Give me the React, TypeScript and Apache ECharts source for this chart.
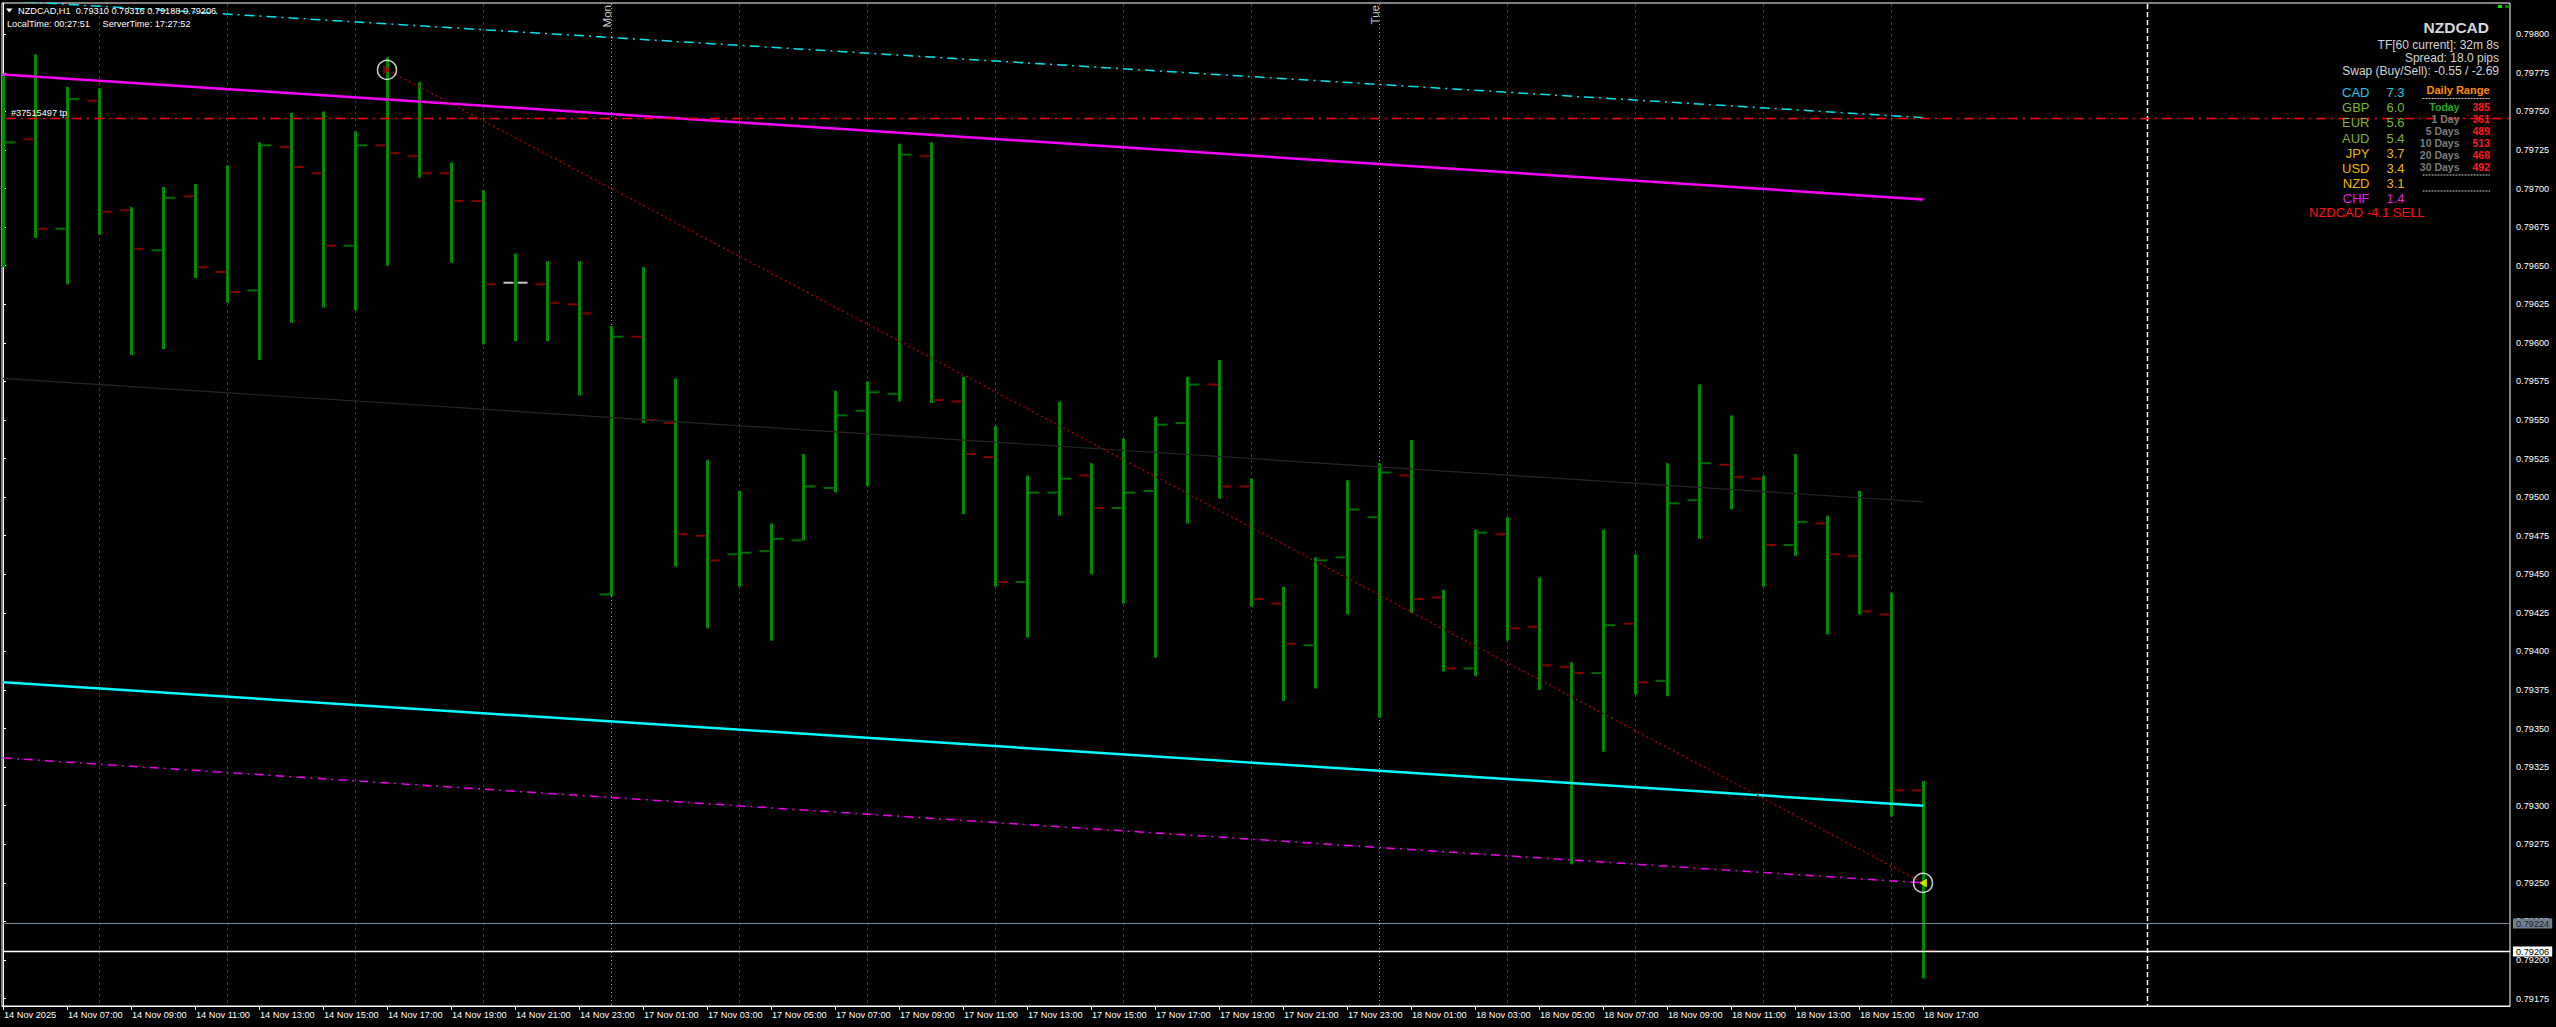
import React, { useEffect, useRef } from "react";
import * as echarts from "echarts";

// ---------- data ----------
const symbolName = "NZDCAD";
const timeframe = "H1";

const barOpen = [
  0.7969, 0.79732, 0.79674, 0.79757, 0.79686, 0.7966, 0.79695, 0.79646, 0.79634, 0.79727,
  0.7971, 0.79663, 0.79728, 0.79721, 0.7971, 0.79692, 0.79639, 0.79638, 0.79625, 0.79437,
  0.79604, 0.79548, 0.79475, 0.79463, 0.79465, 0.79472, 0.79506, 0.79556, 0.79567, 0.79721,
  0.79562, 0.79526, 0.79445, 0.79503, 0.79514, 0.79493, 0.79504, 0.79548, 0.79573, 0.79507,
  0.79431, 0.79404, 0.79461, 0.79487, 0.79514, 0.79435, 0.79389, 0.79476, 0.79416, 0.7939,
  0.79386, 0.79418, 0.79381, 0.79498, 0.79521, 0.79512, 0.79469, 0.79483, 0.79462, 0.79424,
  0.7931,
];
const barHigh = [
  0.79773, 0.79787, 0.79766, 0.79765, 0.79688, 0.79701, 0.79703, 0.79715, 0.7973, 0.79749,
  0.7975, 0.79737, 0.79785, 0.79769, 0.79717, 0.79699, 0.79658, 0.79653, 0.79653, 0.79611,
  0.79649, 0.79577, 0.79524, 0.79504, 0.79483, 0.79528, 0.79569, 0.79575, 0.79729, 0.7973,
  0.79578, 0.79546, 0.79514, 0.79562, 0.79522, 0.79538, 0.79552, 0.79578, 0.79589, 0.79512,
  0.79442, 0.79461, 0.79511, 0.79522, 0.79537, 0.7944, 0.79479, 0.79487, 0.79448, 0.79393,
  0.79479, 0.79463, 0.79522, 0.79573, 0.79553, 0.79514, 0.79528, 0.79488, 0.79504, 0.79438,
  0.79316,
];
const barLow = [
  0.79649, 0.79668, 0.79638, 0.7967, 0.79592, 0.79596, 0.79642, 0.79626, 0.79589, 0.79613,
  0.79623, 0.79621, 0.7965, 0.79707, 0.79652, 0.79599, 0.79601, 0.79601, 0.79566, 0.79436,
  0.79548, 0.79455, 0.79415, 0.79442, 0.79407, 0.79472, 0.79503, 0.79507, 0.79562, 0.79561,
  0.79489, 0.79442, 0.79409, 0.79488, 0.7945, 0.79431, 0.79396, 0.79483, 0.79499, 0.79429,
  0.79368, 0.79376, 0.79424, 0.79357, 0.79425, 0.79387, 0.79384, 0.79407, 0.79375, 0.79262,
  0.79335, 0.79372, 0.79371, 0.79473, 0.79492, 0.79442, 0.79462, 0.79411, 0.79424, 0.79293,
  0.79188,
];
const barClose = [
  0.7973, 0.79674, 0.79758, 0.79685, 0.79661, 0.79694, 0.79649, 0.79633, 0.79728, 0.79714,
  0.79663, 0.79728, 0.79723, 0.7971, 0.79692, 0.79638, 0.79639, 0.79626, 0.79619, 0.79604,
  0.7955, 0.79476, 0.79459, 0.79464, 0.79473, 0.79507, 0.79553, 0.79568, 0.79722, 0.79563,
  0.79528, 0.79445, 0.79503, 0.79512, 0.79493, 0.79503, 0.79547, 0.79573, 0.79507, 0.79434,
  0.79405, 0.79459, 0.79492, 0.79516, 0.79434, 0.79389, 0.79477, 0.79415, 0.79391, 0.79386,
  0.79417, 0.7938, 0.79496, 0.79522, 0.79513, 0.79469, 0.79484, 0.79463, 0.79426, 0.7931,
  0.79206,
];

const xLabelBars = [
  0, 2, 4, 6, 8, 10, 12, 14, 16, 18, 20, 22, 24, 26, 28, 30, 32, 34, 36, 38, 40, 42, 44, 46, 48,
  50, 52, 54, 56, 58, 60,
];
const xLabels = [
  "14 Nov 2025", "14 Nov 07:00", "14 Nov 09:00", "14 Nov 11:00", "14 Nov 13:00", "14 Nov 15:00",
  "14 Nov 17:00", "14 Nov 19:00", "14 Nov 21:00", "14 Nov 23:00", "17 Nov 01:00", "17 Nov 03:00",
  "17 Nov 05:00", "17 Nov 07:00", "17 Nov 09:00", "17 Nov 11:00", "17 Nov 13:00", "17 Nov 15:00",
  "17 Nov 17:00", "17 Nov 19:00", "17 Nov 21:00", "17 Nov 23:00", "18 Nov 01:00", "18 Nov 03:00",
  "18 Nov 05:00", "18 Nov 07:00", "18 Nov 09:00", "18 Nov 11:00", "18 Nov 13:00", "18 Nov 15:00",
  "18 Nov 17:00",
];
const yTickValues = [
  0.79175, 0.792, 0.79225, 0.7925, 0.79275, 0.793, 0.79325, 0.7935, 0.79375, 0.794, 0.79425,
  0.7945, 0.79475, 0.795, 0.79525, 0.7955, 0.79575, 0.796, 0.79625, 0.7965, 0.79675, 0.797,
  0.79725, 0.7975, 0.79775, 0.798,
];
const yMin = 0.791702;
const yMax = 0.798203;
const xMin = -0.03125;
const xMax = 78.34375;

const gridLineBars = [3, 7, 11, 15, 23, 27, 31, 35, 39, 47, 51, 55, 59];
const daySeparatorBars = [19, 43];
const daySeparatorLabels = ["Mon", "Tue"];
const futureLineBar = 67;

const channelUpper = [[0, 0.79774], [60, 0.79693]];
const channelMiddle = [[0, 0.79577], [60, 0.79497]];
const channelLower = [[0, 0.7938], [60, 0.793]];
const trendUpperDashed = [[0, 0.79822], [60, 0.79746]];
const trendLowerDashed = [[0, 0.79331], [60, 0.7925]];
const tradeLine = [[12, 0.79777], [60, 0.7925]];
const tradeMarkers = [[12, 0.79777], [60, 0.7925]];

const tpPrice = 0.79746;
const tpLabel = "#37515497 tp";
const askPrice = 0.79224;
const bidPrice = 0.79206;

const localTime = "00:27:51";
const serverTime = "17:27:52";
const infoLines = ["TF[60 current]: 32m 8s", "Spread: 18.0 pips", "Swap (Buy/Sell): -0.55 / -2.69"];
const currencyNames = ["CAD", "GBP", "EUR", "AUD", "JPY", "USD", "NZD", "CHF"];
const currencyStrength = ["7.3", "6.0", "5.6", "5.4", "3.7", "3.4", "3.1", "1.4"];
const currencyColors = ["#1ec8e6", "#7db52c", "#7db52c", "#7db52c", "#e6b800", "#e6b800", "#f0b400", "#e020e8"];
const signalText = "NZDCAD -4.1 SELL";
const rangeTitle = "Daily Range";
const rangeLabels = ["Today", "1 Day", "5 Days", "10 Days", "20 Days", "30 Days"];
const rangeValues = ["385", "361", "489", "513", "468", "492"];

// ---------- styles ----------
const FONT = '"Liberation Sans", Arial, Helvetica, sans-serif';
const SMALL = 9.2;
const BAR_GREEN = "#008a00";
const TICK_UP = "#006c00";
const TICK_DOWN = "#850000";
const TICK_FLAT = "#c8c8c8";

const ohlcData = barOpen.map((o, i) => [i, o, barClose[i], barLow[i], barHigh[i]]);

function buildOption() {
  const vgridData: number[][] = [
    ...gridLineBars.map((b) => [b, 0, -1]),
    ...daySeparatorBars.map((b, k) => [b, 1, k]),
    [futureLineBar, 2, -1],
  ];

  const graphic: any[] = [];
  // header
  graphic.push({
    type: "polygon",
    shape: { points: [[6, 8.5], [12.5, 8.5], [9.25, 12.5]] },
    style: { fill: "#ffffff" },
    z: 100,
  });
  const last = barOpen.length - 1;
  graphic.push({
    type: "text",
    x: 18,
    y: 10.7,
    z: 100,
    style: {
      text: `${symbolName},${timeframe}  ${barOpen[last].toFixed(5)} ${barHigh[last].toFixed(5)} ${barLow[last].toFixed(5)} ${barClose[last].toFixed(5)}`,
      fill: "#ffffff",
      font: `${SMALL}px ${FONT}`,
      verticalAlign: "middle",
    },
  });
  graphic.push({
    type: "text", x: 7, y: 24, z: 100,
    style: { text: `LocalTime: ${localTime}`, fill: "#ffffff", font: `${SMALL}px ${FONT}`, verticalAlign: "middle" },
  });
  graphic.push({
    type: "text", x: 102.5, y: 24, z: 100,
    style: { text: `ServerTime: ${serverTime}`, fill: "#ffffff", font: `${SMALL}px ${FONT}`, verticalAlign: "middle" },
  });
  // right panel
  graphic.push({
    type: "text", x: 2489, y: 27, z: 100,
    style: { text: symbolName, fill: "#d8d8d8", font: `bold 15.5px ${FONT}`, align: "right", verticalAlign: "middle" },
  });
  infoLines.forEach((t, k) => {
    graphic.push({
      type: "text", x: 2499, y: 45 + k * 13, z: 100,
      style: { text: t, fill: "#d4d4d4", font: `12px ${FONT}`, align: "right", verticalAlign: "middle" },
    });
  });
  currencyNames.forEach((n, k) => {
    const y = 92.7 + k * 15.1;
    graphic.push({
      type: "text", x: 2369.5, y, z: 100,
      style: { text: n, fill: currencyColors[k], font: `13px ${FONT}`, align: "right", verticalAlign: "middle" },
    });
    graphic.push({
      type: "text", x: 2386.5, y, z: 100,
      style: { text: currencyStrength[k], fill: currencyColors[k], font: `13px ${FONT}`, align: "left", verticalAlign: "middle" },
    });
  });
  graphic.push({
    type: "text", x: 2309, y: 212.7, z: 100,
    style: { text: signalText, fill: "#ff1010", font: `13px ${FONT}`, align: "left", verticalAlign: "middle" },
  });
  graphic.push({
    type: "text", x: 2489.5, y: 90, z: 100,
    style: { text: rangeTitle, fill: "#ff8c00", font: `bold 11px ${FONT}`, align: "right", verticalAlign: "middle" },
  });
  [98.5, 175, 191].forEach((y) => {
    graphic.push({
      type: "line", z: 100,
      shape: { x1: 2422.5, y1: y, x2: 2490, y2: y },
      style: { stroke: "#c8c8c8", lineWidth: 1, lineDash: [2, 1] },
    });
  });
  rangeLabels.forEach((t, k) => {
    const y = 107.3 + k * 12;
    graphic.push({
      type: "text", x: 2459.5, y, z: 100,
      style: { text: t, fill: k === 0 ? "#22a822" : "#7c7c7c", font: `bold 10.5px ${FONT}`, align: "right", verticalAlign: "middle" },
    });
    graphic.push({
      type: "text", x: 2490, y, z: 100,
      style: { text: rangeValues[k], fill: "#ff1a1a", font: `bold 10.5px ${FONT}`, align: "right", verticalAlign: "middle" },
    });
  });
  // tiny status squares
  graphic.push({ type: "rect", z: 100, shape: { x: 2498, y: 5, width: 4, height: 3 }, style: { fill: "#00ee00" } });
  graphic.push({ type: "rect", z: 100, shape: { x: 2505, y: 5, width: 4, height: 3 }, style: { fill: "#007a00" } });

  return {
    backgroundColor: "#000000",
    animation: false,
    grid: {
      left: 2,
      right: 46,
      top: 3,
      bottom: 21,
      show: true,
      borderColor: "#ffffff",
      borderWidth: 1,
      backgroundColor: "#000000",
    },
    xAxis: {
      type: "value",
      min: xMin,
      max: xMax,
      axisLine: { show: true, lineStyle: { color: "#ffffff", width: 1 } },
      axisTick: {
        show: true,
        customValues: xLabelBars,
        length: 4,
        lineStyle: { color: "#ffffff", width: 1 },
      },
      axisLabel: {
        show: true,
        customValues: xLabelBars,
        formatter: (v: number) => {
          const k = xLabelBars.indexOf(Math.round(v));
          return k >= 0 ? xLabels[k] : "";
        },
        color: "#ffffff",
        fontSize: SMALL,
        fontFamily: FONT,
        align: "left",
        margin: 4,
        padding: [0, 0, 0, 1],
      },
      splitLine: { show: false },
    },
    yAxis: {
      type: "value",
      position: "right",
      min: yMin,
      max: yMax,
      scale: true,
      axisLine: { show: true, lineStyle: { color: "#ffffff", width: 1 } },
      axisTick: {
        show: true,
        customValues: yTickValues,
        length: 3,
        lineStyle: { color: "#ffffff", width: 1 },
      },
      axisLabel: {
        show: true,
        customValues: yTickValues,
        formatter: (v: number) => v.toFixed(5),
        color: "#ffffff",
        fontSize: SMALL,
        fontFamily: FONT,
        margin: 6,
      },
      splitLine: { show: false },
    },
    graphic,
    series: [
      {
        type: "custom",
        name: "vgrid",
        silent: true,
        z: 1,
        clip: false,
        data: vgridData,
        encode: { x: 0 },
        renderItem: (params: any, api: any) => {
          const bar = api.value(0);
          const kind = api.value(1);
          const labelIdx = api.value(2);
          const cs = params.coordSys;
          const x = Math.round(api.coord([bar, yMin])[0]) + 0.5;
          const y1 = cs.y + 1;
          const y2 = cs.y + cs.height;
          if (kind === 0) {
            return {
              type: "line",
              shape: { x1: x, y1, x2: x, y2 },
              style: { stroke: "#3a3a3a", lineWidth: 1, lineDash: [3, 3] },
            };
          }
          if (kind === 2) {
            return {
              type: "line",
              shape: { x1: x, y1, x2: x, y2 },
              style: { stroke: "#ffffff", lineWidth: 1.5, lineDash: [5, 3] },
            };
          }
          return {
            type: "group",
            children: [
              {
                type: "line",
                shape: { x1: x, y1, x2: x, y2 },
                style: { stroke: "#a8a8a8", lineWidth: 1, lineDash: [1, 3] },
              },
              {
                type: "text",
                x: x - 5,
                y: cs.y + 2,
                rotation: Math.PI / 2,
                style: {
                  text: daySeparatorLabels[labelIdx],
                  fill: "#c8c8c8",
                  font: `11.5px ${FONT}`,
                  align: "right",
                  verticalAlign: "middle",
                },
              },
            ],
          };
        },
      },
      {
        type: "custom",
        name: symbolName,
        silent: true,
        z: 2,
        clip: true,
        data: ohlcData,
        encode: { x: 0, y: [1, 2, 3, 4] },
        renderItem: (params: any, api: any) => {
          const i = api.value(0);
          const o = api.value(1);
          const c = api.value(2);
          const pO = api.coord([i, o]);
          const pC = api.coord([i, c]);
          const pL = api.coord([i, api.value(3)]);
          const pH = api.coord([i, api.value(4)]);
          const x = Math.round(pO[0]) + 0.5;
          const tc = c > o ? TICK_UP : c < o ? TICK_DOWN : TICK_FLAT;
          return {
            type: "group",
            children: [
              {
                type: "line",
                shape: { x1: x, y1: pH[1], x2: x, y2: pL[1] },
                style: { stroke: BAR_GREEN, lineWidth: 3, lineCap: "butt" },
              },
              {
                type: "line",
                shape: { x1: x - 12, y1: pO[1], x2: x - 2, y2: pO[1] },
                style: { stroke: tc, lineWidth: 2 },
              },
              {
                type: "line",
                shape: { x1: x + 2, y1: pC[1], x2: x + 12, y2: pC[1] },
                style: { stroke: tc, lineWidth: 2 },
              },
            ],
          };
        },
      },
      {
        type: "line", name: "channelMiddle", data: channelMiddle, symbol: "none", silent: true, z: 3,
        lineStyle: { color: "#262626", width: 1.2 },
      },
      {
        type: "line", name: "channelUpper", data: channelUpper, symbol: "none", silent: true, z: 3,
        lineStyle: { color: "#ff00ff", width: 2.5 },
      },
      {
        type: "line", name: "channelLower", data: channelLower, symbol: "none", silent: true, z: 3,
        lineStyle: { color: "#00ffff", width: 2.5 },
      },
      {
        type: "line", name: "trendUpper", data: trendUpperDashed, symbol: "none", silent: true, z: 3,
        lineStyle: { color: "#00e5ee", width: 1.5, type: [10, 5, 2, 5] },
      },
      {
        type: "line", name: "trendLower", data: trendLowerDashed, symbol: "none", silent: true, z: 3,
        lineStyle: { color: "#ee00ee", width: 1.5, type: [9, 5, 2, 5] },
      },
      {
        type: "line", name: "trade", data: tradeLine, symbol: "none", silent: true, z: 3,
        lineStyle: { color: "#a00000", width: 1.5, type: [2, 3] },
      },
      {
        type: "custom",
        name: "levels",
        silent: true,
        z: 4,
        clip: false,
        data: [
          [0, tpPrice, 0],
          [0, askPrice, 1],
          [0, bidPrice, 2],
        ],
        encode: { x: 0, y: 1 },
        renderItem: (params: any, api: any) => {
          const price = api.value(1);
          const kind = api.value(2);
          const cs = params.coordSys;
          const y = Math.round(api.coord([0, price])[1]) + 0.5;
          const x1 = cs.x + 1;
          const x2 = cs.x + cs.width;
          if (kind === 0) {
            return {
              type: "group",
              children: [
                {
                  type: "line",
                  shape: { x1: x1 + 3, y1: y, x2, y2: y },
                  style: { stroke: "#ff0000", lineWidth: 1.5, lineDash: [10, 5, 2, 5] },
                },
                {
                  type: "text",
                  x: x1 + 8,
                  y: y - 6,
                  style: {
                    text: tpLabel,
                    fill: "#ffffff",
                    font: `${SMALL}px ${FONT}`,
                    verticalAlign: "middle",
                  },
                },
              ],
            };
          }
          const isAsk = kind === 1;
          return {
            type: "group",
            children: [
              {
                type: "line",
                shape: { x1, y1: y, x2, y2: y },
                style: { stroke: isAsk ? "#778899" : "#ffffff", lineWidth: isAsk ? 1 : 1.5 },
              },
              {
                type: "text",
                x: x2 + 3,
                y,
                style: {
                  text: price.toFixed(5),
                  fill: isAsk ? "#1c1c1c" : "#000000",
                  backgroundColor: isAsk ? "#6f7f8f" : "#ffffff",
                  padding: [1, 3, 0, 3],
                  font: `${SMALL}px ${FONT}`,
                  verticalAlign: "middle",
                },
              },
            ],
          };
        },
      },
      {
        type: "scatter",
        name: "tradeCircles",
        data: tradeMarkers,
        symbol: "circle",
        symbolSize: 19,
        silent: true,
        z: 5,
        itemStyle: { color: "rgba(0,0,0,0)", borderColor: "#ffffff", borderWidth: 1.5 },
      },
      {
        type: "scatter",
        name: "tradeArrows",
        data: [
          { value: tradeMarkers[0], symbolRotate: -90, itemStyle: { color: "#a00000" } },
          { value: tradeMarkers[1], symbolRotate: 90, itemStyle: { color: "#ffff00" } },
        ],
        symbol: "triangle",
        symbolSize: [9, 8],
        silent: true,
        z: 6,
      },
    ],
  };
}

export default function App() {
  const ref = useRef<HTMLDivElement>(null);
  useEffect(() => {
    if (!ref.current) return;
    const chart = echarts.init(ref.current, null, { renderer: "svg" });
    chart.setOption(buildOption() as any);
    return () => {
      chart.dispose();
    };
  }, []);
  return (
    <div
      ref={ref}
      style={{ position: "fixed", left: 0, top: 0, width: 2556, height: 1027, background: "#000000" }}
    />
  );
}
